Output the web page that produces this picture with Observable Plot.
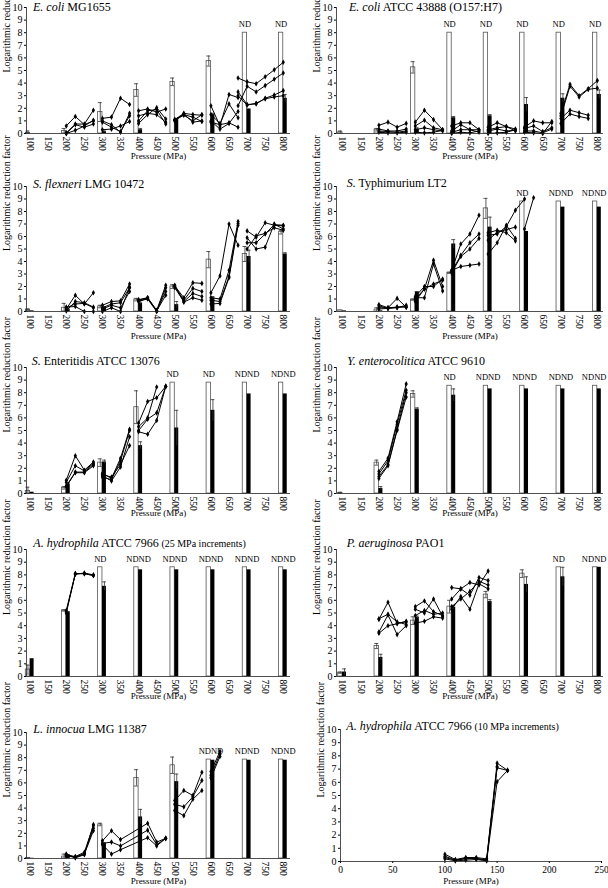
<!DOCTYPE html>
<html><head><meta charset="utf-8">
<script src="https://cdn.jsdelivr.net/npm/d3@7"></script>
<script src="https://cdn.jsdelivr.net/npm/@observablehq/plot@0.6"></script>
<style>
body{margin:0;background:#fff;}
#chart{position:relative;width:608px;height:888px;overflow:hidden;font-family:"Liberation Serif",Times,"Times New Roman",serif;background:#fff;}
#chart svg, #chart svg text{font-family:"Liberation Serif",Times,"Times New Roman",serif !important;}
.title{position:absolute;font-size:12px;white-space:nowrap;line-height:14px;color:#000;z-index:2;}
.title .small{font-size:10px;}
</style></head><body><div id="chart"></div>
<script>
// ---------- shared ----------
const barPressures = [100, 200, 300, 400, 500, 600, 700, 800];
const xTickPressures = [100, 150, 200, 250, 300, 350, 400, 450, 500, 550, 600, 650, 700, 750, 800];
const yTicks = [0, 1, 2, 3, 4, 5, 6, 7, 8, 9, 10];
const lineStepMPa = 25;

// ---------- E. coli MG1655 ----------
const ecoliMG_white    = [0.05, 0.2, 1.7, 3.45, 4.1, 5.75, 8, 8];
const ecoliMG_whiteErr = [0.15, 0.2, 0.75, 0.5, 0.3, 0.4, 0, 0];
const ecoliMG_black    = [0, 0.05, 0.15, 0.3, 1.1, 1.5, 1.95, 2.8];
const ecoliMG_blackErr = [0, 0, 0.05, 0.1, 0.1, 0.1, 0, 0.3];
const ecoliMG_nd       = [null, null, null, null, null, null, "ND", "ND"];
const ecoliMG_lines = [
  [200, 0.6, 1.35, 0.7, 1.0], [200, 0.05, 0.75, 0.75, 1.85], [200, 0.0, 0.25, 0.6, 1.05], [200, 0.0, 0.7, 0.5, 0.75],
  [300, 1.2, 1.3, 2.8, 2.3], [300, 1.0, 0.7, 0.1, 1.6], [300, 0.9, 0.5, 0.15, 1.4], [300, 0.3, 0.35, 0.6, 0.95],
  [400, 1.8, 1.95, 1.7, 1.95], [400, 0.8, 1.5, 2.05, 1.15], [400, 1.4, 1.6, 1.5, 0.9], [400, 1.0, 1.8, 1.9, 0.75],
  [500, 1.1, 1.6, 1.5, 1.45], [500, 1.05, 1.45, 1.0, 1.5], [500, 1.0, 1.55, 0.9, 1.0], [500, 1.1, 1.5, 1.3, 0.95],
  [600, 2.2, 0.6, 3.1, 2.85], [600, 1.5, 0.8, 2.35, 1.25], [600, 0.9, 0.7, 0.85, 0.5], [600, 1.0, 0.35, 0.8, 1.75],
  [675, 4.4, 4.1, 3.95, 4.5, 5.05, 5.65], [675, 3.3, 2.3, 2.35, 2.8, 3.05, 3.4],
  [675, 3.0, 2.25, 2.4, 2.75, 2.9, 3.0], [675, 2.2, 3.75, 3.3, 3.8, 4.3, 4.8]
];

// ---------- E. coli ATCC 43888 ----------
const ecoli43888_white    = [0.1, 0.3, 5.25, 8, 8, 8, 8, 8];
const ecoli43888_whiteErr = [0.1, 0.1, 0.45, 0, 0, 0, 0, 0];
const ecoli43888_black    = [0, 0.1, 0.35, 1.25, 1.4, 2.3, 2.8, 3.1];
const ecoli43888_blackErr = [0, 0, 0.1, 0.1, 0.1, 0.55, 0.35, 0.35];
const ecoli43888_nd       = [null, null, null, "ND", "ND", "ND", "ND", "ND"];
const ecoli43888_lines = [
  [200, 0.65, 0.9, 0.5, 0.8], [200, 0.35, 0.2, 0.2, 0.35], [200, 0.2, 0.15, 0.1, 0.2], [200, 0.1, 0.05, 0.05, 0.1],
  [300, 0.9, 1.85, 1.1, 0.3], [300, 0.6, 1.05, 0.45, 0.3], [300, 0.3, 0.45, 0.3, 0.2], [300, 0.1, 0.05, 0.1, 0.25],
  [400, 0.6, 0.85, 0.85, 0.3], [400, 0.2, 0.7, 0.3, 0.1], [400, 0.1, 0.3, 0.3, 0.3], [400, 0.0, 0.1, 0.05, 0.2],
  [500, 0.5, 0.85, 0.55, 0.35], [500, 0.3, 0.45, 0.55, 0.2], [500, 0.2, 0.35, 0.2, 0.25], [500, 0.0, 0.05, 0.1, 0.3],
  [600, 0.5, 1.0, 0.85, 0.85], [600, 0.4, 0.6, 0.15, 0.45], [600, 0.2, 0.2, 0.05, 0.35], [600, 0.1, 0.05, 0.0, 0.95],
  [700, 1.6, 3.9, 3.0, 3.55, 4.2], [700, 1.4, 3.75, 2.9, 3.5, 3.6], [700, 1.2, 1.85, 1.65, 1.45], [700, 0.8, 1.55, 1.35, 1.2]
];

// ---------- S. flexneri LMG 10472 ----------
const sflex_white    = [0.15, 0.3, 0.4, 0.95, 2.0, 4.15, 4.6, 6.35];
const sflex_whiteErr = [0.05, 0.35, 0.1, 0.1, 0.15, 0.65, 0.6, 0.15];
const sflex_black    = [0.05, 0.15, 0.3, 0.65, 0.55, 1.1, 4.4, 4.6];
const sflex_blackErr = [0, 0.05, 0.1, 0.1, 0.25, 0.1, 0.5, 0.1];
const sflex_nd       = [null, null, null, null, null, null, null, null];
const sflex_lines = [
  [200, 0.2, 1.3, 0.6, 1.5], [200, 0.05, 0.8, 0.7, 0.35], [200, 0.3, 0.6, 0.65, 0.3], [200, 0.35, 0.4, 0.0, 0.0],
  [300, 0.5, 0.8, 0.85, 2.2], [300, 0.3, 0.6, 0.7, 1.9], [300, 0.2, 0.5, 0.3, 1.6], [300, 0.0, 0.3, 0.0, 1.95],
  [400, 0.95, 1.1, 0.1, 2.1], [400, 0.85, 1.0, 0.0, 1.9], [400, 0.8, 1.05, 0.05, 1.6], [400, 0.9, 1.1, 0.05, 1.3],
  [500, 2.05, 1.1, 2.3, 2.25], [500, 2.0, 0.9, 1.85, 1.6], [500, 1.9, 0.8, 1.45, 1.2], [500, 2.1, 0.75, 1.1, 0.9],
  [600, 1.5, 2.85, 7.0, 5.3], [600, 1.1, 1.0, 3.3, 7.2], [600, 0.9, 0.8, 2.8, 7.05], [600, 0.6, 0.65, 2.7, 6.9],
  [700, 6.45, 5.95, 7.1, 6.9, 6.85], [700, 5.9, 5.0, 5.15, 7.0, 6.6], [700, 5.5, 5.5, 6.2, 6.95, 6.9], [700, 5.0, 6.05, 6.25, 6.7, 6.5]
];

// ---------- S. Typhimurium LT2 ----------
const styph_white    = [0.1, 0.15, 0.95, 3.1, 8.25, 8.8, 8.8, 8.8];
const styph_whiteErr = [0, 0.15, 0.05, 0.05, 0.8, 0, 0, 0];
const styph_black    = [0.05, 0.05, 1.55, 5.4, 6.75, 6.4, 8.35, 8.35];
const styph_blackErr = [0, 0, 0.05, 0.35, 0.8, 0, 0, 0];
const styph_nd       = [null, null, null, null, null, "ND", "NDND", "NDND"];
const styph_lines = [
  [200, 0.55, 0.3, 1.05, 0.35], [200, 0.45, 0.25, 0.35, 0.35], [200, 0.3, 0.3, 0.35, 0.4], [200, 0.2, 0.25, 0.3, 0.5],
  [300, 1.0, 1.8, 4.1, 2.0], [300, 1.1, 1.1, 3.8, 1.65], [300, 0.8, 1.8, 2.2, 2.5], [300, 1.2, 2.0, 2.0, 2.6],
  [400, 3.3, 5.4, 6.2, 7.7], [400, 3.2, 4.5, 5.5, 6.2], [400, 3.1, 4.4, 5.0, 5.85], [400, 3.3, 3.6, 3.7, 3.8],
  [500, 4.6, 5.5, 6.9, 5.85], [500, 5.7, 6.35, 6.55, 6.75], [500, 6.3, 6.5, 6.3, 5.65], [500, 6.1, 6.2, 6.8, 8.1, 9.0],
  [600, 6.6, 9.1]
];

// ---------- S. Enteritidis ATCC 13076 ----------
const sent_white    = [0.2, 0.45, 2.45, 6.85, 8.8, 8.8, 8.8, 8.8];
const sent_whiteErr = [0.3, 0.1, 0.3, 1.3, 0, 0, 0, 0];
const sent_black    = [0.1, 0.75, 2.5, 3.8, 5.2, 6.6, 7.9, 7.9];
const sent_blackErr = [0, 0.1, 0.15, 0.3, 1.4, 0.85, 0, 0];
const sent_nd       = [null, null, null, null, "ND", "ND", "NDND", "NDND"];
const sent_lines = [
  [200, 1.05, 3.0, 1.85, 2.5], [200, 0.9, 2.2, 1.8, 2.4], [200, 0.6, 1.7, 1.7, 2.3], [200, 0.55, 1.65, 1.65, 2.2],
  [300, 1.6, 1.2, 2.8, 5.1], [300, 1.4, 1.0, 2.1, 4.5], [300, 1.5, 1.3, 2.3, 3.8], [300, 1.3, 1.1, 2.6, 5.0],
  [400, 5.6, 7.3, 7.6, 8.5], [400, 5.0, 5.9, 6.4, 8.5], [400, 4.9, 4.7, 5.8, 8.5], [400, 5.3, 6.0, 8.45]
];

// ---------- Y. enterocolitica ATCC 9610 ----------
const yent_white    = [0.05, 2.45, 7.9, 8.55, 8.55, 8.55, 8.55, 8.55];
const yent_whiteErr = [0.05, 0.2, 0.25, 0, 0, 0, 0, 0];
const yent_black    = [0, 0.4, 6.7, 7.8, 8.3, 8.3, 8.3, 8.3];
const yent_blackErr = [0, 0.15, 0.1, 0.5, 0, 0, 0, 0];
const yent_nd       = [null, null, null, "ND", "NDND", "NDND", "NDND", "NDND"];
const yent_lines = [
  [200, 1.75, 2.8, 5.7, 8.7], [200, 1.55, 2.6, 5.5, 8.2], [200, 1.35, 2.3, 5.1, 8.0], [200, 1.2, 2.2, 5.0, 7.65]
];

// ---------- A. hydrophila ATCC 7966 (25 MPa) ----------
const ahyd25_white    = [0.55, 5.2, 8.6, 8.6, 8.6, 8.6, 8.6, 8.6];
const ahyd25_whiteErr = [0.35, 0.05, 0, 0, 0, 0, 0, 0];
const ahyd25_black    = [1.4, 5.1, 7.1, 8.4, 8.4, 8.4, 8.4, 8.4];
const ahyd25_blackErr = [0, 0, 0.35, 0, 0, 0, 0, 0];
const ahyd25_nd       = [null, null, "ND", "NDND", "NDND", "NDND", "NDND", "NDND"];
const ahyd25_lines = [
  [200, 5.2, 8.1, 8.1, 7.95], [200, 5.1, 8.05, 8.15, 8.0], [200, 5.0, 8.1, 8.1, 7.95]
];

// ---------- P. aeruginosa PAO1 ----------
const paer_white    = [0.3, 2.4, 4.4, 5.5, 6.45, 8.1, 8.6, 8.6];
const paer_whiteErr = [0.05, 0.2, 0.3, 0.5, 0.25, 0.3, 0, 0];
const paer_black    = [0.35, 1.5, 4.65, 5.45, 5.9, 7.25, 7.85, 8.6];
const paer_blackErr = [0.25, 0.25, 0.1, 0.15, 0.15, 0.6, 0.75, 0];
const paer_nd       = [null, null, null, null, null, null, "ND", "NDND"];
const paer_lines = [
  [200, 4.5, 5.85, 4.2, 4.3], [200, 3.5, 4.85, 3.3, 4.0], [200, 3.4, 4.0, 4.15, 4.35], [200, 4.55, 4.9, 4.3, 4.1],
  [300, 5.5, 5.95, 5.1, 4.8], [300, 5.3, 5.0, 6.1, 4.75], [300, 4.8, 5.2, 4.9, 5.0], [300, 4.2, 4.35, 4.7, 4.6],
  [400, 7.0, 6.9, 7.4, 7.2, 8.3], [400, 6.1, 6.9, 6.4, 7.8, 7.55], [400, 5.3, 6.3, 5.3, 7.3, 6.9], [400, 5.5, 6.1, 6.7, 7.5, 7.2]
];

// ---------- L. innocua LMG 11387 ----------
const linn_white    = [0.05, 0.15, 2.7, 6.4, 7.4, 7.85, 7.85, 7.85];
const linn_whiteErr = [0, 0.2, 0.1, 0.65, 0.65, 0, 0, 0];
const linn_black    = [0.02, 0.3, 1.2, 3.3, 6.1, 7.8, 7.8, 7.8];
const linn_blackErr = [0, 0, 0.05, 0.6, 0.6, 0, 0, 0];
const linn_nd       = [null, null, null, null, null, "NDND", "NDND", "NDND"];
const linn_lines = [
  [200, 0.3, 0.15, 0.5, 2.6], [200, 0.25, 0.1, 0.4, 2.4], [200, 0.2, 0.1, 0.35, 2.2], [200, 0.35, 0.05, 0.3, 2.7],
  [300, 1.4, 2.2, 1.5, null, null, 2.8, 1.3, 1.6], [300, 1.2, 1.3, 1.0, null, null, 2.25, 1.1, 1.6], [300, 1.1, 0.35, 0.7, null, null, 1.65, 1.0, 1.6],
  [500, 4.6, 5.4, 5.0, 6.85], [500, 4.3, 4.1, 4.9, 6.2], [500, 3.8, 3.4, 4.7, 5.4],
  [600, 6.9, 8.5], [600, 6.6, 8.3], [600, 6.4, 8.1]
];

// ---------- A. hydrophila ATCC 7966 (10 MPa) ----------
const ahyd10_pressures = [100, 110, 120, 130, 140, 150, 160];
const ahyd10_xTicks = [0, 50, 100, 150, 200, 250];
const ahyd10_lines = [
  [0.55, 0.15, 0.3, 0.3, 0.2, 7.45, 6.9],
  [0.4, 0.1, 0.2, 0.25, 0.1, 7.1, 6.9],
  [0.2, 0.05, 0.1, 0.15, 0.05, 6.05, 6.9],
  [0.3, 0.1, 0.25, 0.2, 0.1, 7.2, null]
];

// ---------- titles ----------
const titleItalic = ["E. coli", "E. coli", "S. flexneri", "S.", "S.", "Y. enterocolitica", "A. hydrophila", "P. aeruginosa", "L. innocua", "A. hydrophila"];
const titleRest = [" MG1655", "  ATCC 43888 (O157:H7)", " LMG 10472", " Typhimurium LT2", " Enteritidis ATCC 13076", " ATCC 9610", " ATCC 7966", " PAO1", " LMG 11387", " ATCC 7966"];
const titleNote = ["", "", "", "", "", "", " (25 MPa increments)", "", "", " (10 MPa increments)"];
const yLabel = "Logarithmic reduction factor";
const xLabel = "Pressure (MPa)";

// ---------- layout (geometry only) ----------
const FONT = '"Liberation Serif", Times, "Times New Roman", serif';
const colGeom = [{left: 0, ml: 26, mr: 14, xdom: [90, 820]}, {left: 304, ml: 32, mr: 5, xdom: [83.5, 817]}];
const rowGeom = [
  {top: 1, fh: 126, mb: 34, xl: 25},
  {top: 180, fh: 125, mb: 34, xl: 27},
  {top: 361, fh: 126, mb: 30, xl: 22},
  {top: 543, fh: 127, mb: 30, xl: 22},
  {top: 726, fh: 126, mb: 30, xl: 25}
];
const titlePos = [[33, 0], [349, 0], [33, 176.7], [346.7, 175.7], [31.7, 354], [347.3, 354], [33.3, 535.7], [346.7, 535.7], [33.3, 722.3], [346.3, 719]];
const MT = 6;

const barSets = [
  [ecoliMG_white, ecoliMG_whiteErr, ecoliMG_black, ecoliMG_blackErr, ecoliMG_nd, ecoliMG_lines],
  [ecoli43888_white, ecoli43888_whiteErr, ecoli43888_black, ecoli43888_blackErr, ecoli43888_nd, ecoli43888_lines],
  [sflex_white, sflex_whiteErr, sflex_black, sflex_blackErr, sflex_nd, sflex_lines],
  [styph_white, styph_whiteErr, styph_black, styph_blackErr, styph_nd, styph_lines],
  [sent_white, sent_whiteErr, sent_black, sent_blackErr, sent_nd, sent_lines],
  [yent_white, yent_whiteErr, yent_black, yent_blackErr, yent_nd, yent_lines],
  [ahyd25_white, ahyd25_whiteErr, ahyd25_black, ahyd25_blackErr, ahyd25_nd, ahyd25_lines],
  [paer_white, paer_whiteErr, paer_black, paer_blackErr, paer_nd, paer_lines],
  [linn_white, linn_whiteErr, linn_black, linn_blackErr, linn_nd, linn_lines]
];

const chart = document.getElementById("chart");
const STYLE = {fontFamily: FONT, fontSize: "10px", color: "#000", background: "transparent", overflow: "visible"};

function commonAxes(xdom) {
  return [
    Plot.axisY({ticks: yTicks, tickSize: 2, tickPadding: 2, label: null, fontSize: 10, fontFamily: FONT}),
    Plot.ruleX([xdom[0]], {stroke: "#222", strokeWidth: 0.8}),
    Plot.ruleY([0], {stroke: "#222", strokeWidth: 0.8}),
    Plot.text([yLabel], {frameAnchor: "left", rotate: -90, dx: -20, dy: 2, text: d => d, fontSize: 10, fontFamily: FONT})
  ];
}

function barPanel(i) {
  const [white, whiteErr, black, blackErr, nd, lines] = barSets[i];
  const cg = colGeom[i % 2], rg = rowGeom[Math.floor(i / 2)];
  const rightCol = i % 2 === 1;
  const W = barPressures.map((x, k) => ({x, v: white[k], e: whiteErr[k]})).filter(d => d.v > 0);
  const B = barPressures.map((x, k) => ({x, v: black[k], e: blackErr[k]})).filter(d => d.v > 0);
  const WE = W.filter(d => d.e > 0), BE = B.filter(d => d.e > 0);
  const L = [];
  lines.forEach((row, z) => row.slice(1).forEach((v, j) => { if (v != null) L.push({x: row[0] + lineStepMPa * j, y: v, z}); }));
  const N = barPressures.map((x, k) => ({x, label: nd[k], top: Math.max(white[k], black[k])})).filter(d => d.label);
  const edge = d => rightCol && d.x === 800 && d.label === "NDND";
  const NMid = N.filter(d => !edge(d)), NEnd = N.filter(edge);
  const wc = d => d.x - 6, bc = d => d.x + 5.5, cap = 5.5;
  const lo = d => Math.max(0, d.v - d.e), hi = d => d.v + d.e;
  const svg = Plot.plot({
    width: 304, height: MT + rg.fh + rg.mb,
    marginTop: MT, marginBottom: rg.mb, marginLeft: cg.ml, marginRight: cg.mr,
    x: {domain: cg.xdom},
    y: {domain: [0, 10]},
    style: STYLE,
    marks: [
      Plot.rect(W, {x1: d => d.x - 12, x2: d => d.x, y1: 0, y2: "v", fill: "white", stroke: "#555", strokeWidth: 0.8}),
      Plot.rect(B, {x1: d => d.x, x2: d => d.x + 11, y1: 0, y2: "v", fill: "black"}),
      Plot.ruleX(WE, {x: wc, y1: lo, y2: hi, stroke: "#333", strokeWidth: 0.8}),
      Plot.ruleY(WE, {y: hi, x1: d => wc(d) - cap, x2: d => wc(d) + cap, stroke: "#333", strokeWidth: 0.8}),
      Plot.ruleY(WE.filter(d => d.v - d.e > 0), {y: lo, x1: d => wc(d) - cap, x2: d => wc(d) + cap, stroke: "#333", strokeWidth: 0.8}),
      Plot.ruleX(BE, {x: bc, y1: lo, y2: hi, stroke: "#333", strokeWidth: 0.8}),
      Plot.ruleY(BE, {y: hi, x1: d => bc(d) - cap, x2: d => bc(d) + cap, stroke: "#333", strokeWidth: 0.8}),
      Plot.line(L, {x: "x", y: "y", z: "z", stroke: "black", strokeWidth: 1}),
      Plot.dot(L, {x: "x", y: "y", symbol: "diamond", r: 1.7, fill: "black", stroke: "none"}),
      Plot.text(NMid, {x: d => d.label === "ND" ? d.x - 6 : d.x, y: "top", text: "label", dy: -8.5, fontSize: 8.5, fill: "black", fontFamily: FONT}),
      Plot.text(NEnd, {x: d => d.x + 25, y: "top", text: "label", dy: -8.5, textAnchor: "end", fontSize: 8.5, fill: "black", fontFamily: FONT}),
      Plot.axisX({ticks: xTickPressures, tickRotate: 90, tickSize: 0, tickPadding: 3, label: null, fontSize: 9.5, fontFamily: FONT}),
      ...commonAxes(cg.xdom),
      Plot.text([xLabel], {frameAnchor: "bottom", dy: rg.xl, text: d => d, fontSize: 9, fontFamily: FONT})
    ]
  });
  svg.style.position = "absolute";
  svg.style.left = cg.left + "px";
  svg.style.top = rg.top + "px";
  chart.appendChild(svg);
}

function lastPanel() {
  const L = [];
  ahyd10_lines.forEach((row, z) => row.forEach((v, j) => { if (v != null) L.push({x: ahyd10_pressures[j], y: v, z}); }));
  const xdom = [0, 250];
  const svg = Plot.plot({
    width: 304, height: MT + 132 + 27,
    marginTop: MT, marginBottom: 27, marginLeft: 36, marginRight: 7,
    x: {domain: xdom},
    y: {domain: [0, 10]},
    style: STYLE,
    marks: [
      Plot.line(L, {x: "x", y: "y", z: "z", stroke: "black", strokeWidth: 1}),
      Plot.dot(L, {x: "x", y: "y", symbol: "diamond", r: 1.7, fill: "black", stroke: "none"}),
      Plot.axisX({ticks: ahyd10_xTicks, tickSize: 2, tickPadding: 3, label: null, fontSize: 9.5, fontFamily: FONT}),
      ...commonAxes(xdom),
      Plot.text([xLabel], {frameAnchor: "bottom", dy: 22, text: d => d, fontSize: 9, fontFamily: FONT})
    ]
  });
  svg.style.position = "absolute";
  svg.style.left = "304px";
  svg.style.top = "723px";
  chart.appendChild(svg);
}

for (let i = 0; i < barSets.length; i++) barPanel(i);
lastPanel();

titleItalic.forEach((t, i) => {
  const d = document.createElement("div");
  d.className = "title";
  d.style.left = titlePos[i][0] + "px";
  d.style.top = titlePos[i][1] + "px";
  const it = document.createElement("i"); it.textContent = t; d.appendChild(it);
  d.appendChild(document.createTextNode(titleRest[i]));
  if (titleNote[i]) { const s = document.createElement("span"); s.className = "small"; s.textContent = titleNote[i]; d.appendChild(s); }
  chart.appendChild(d);
});
</script></body></html>
